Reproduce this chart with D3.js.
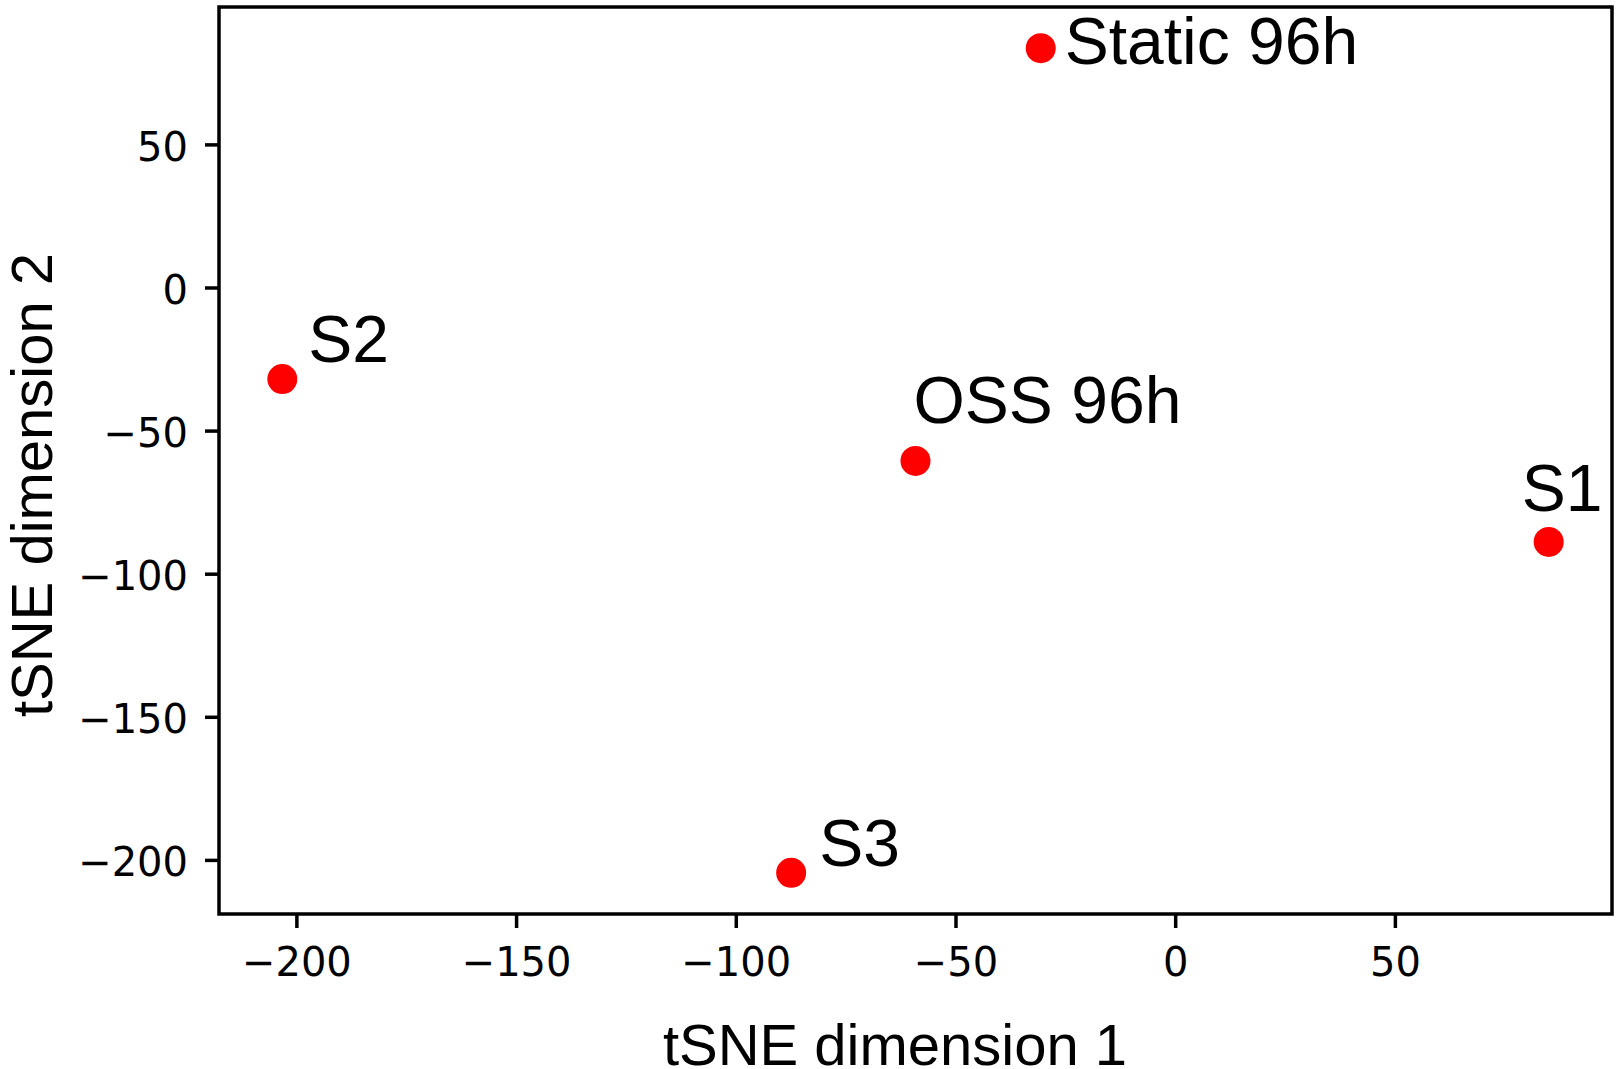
<!DOCTYPE html>
<html>
<head>
<meta charset="utf-8">
<script src="https://cdn.jsdelivr.net/npm/d3@7"></script>
<style>
  html, body { margin: 0; padding: 0; background: #fff; }
  .tick text { font-family: "DejaVu Sans", sans-serif; }
  .axis-title, .point-label { font-family: "Liberation Sans", Arial, sans-serif; fill: #000; }
</style>
</head>
<body>
<svg id="chart" width="1621" height="1069"></svg>
<script>
// Sample names and their tSNE coordinates.
const samples = ['Static 96h', 'S2', 'OSS 96h', 'S1', 'S3'];
const dim1 = [-30.6, -203.2, -59.1, 85.0, -87.4];
const dim2 = [83.6, -32.0, -60.6, -88.9, -204.5];

// Tick values shown on each axis.
const xTicks = [-200, -150, -100, -50, 0, 50];
const yTicks = [-200, -150, -100, -50, 0, 50];

// Where each label sits relative to its dot (px: dx, dy to text baseline).
const labelOffset = [[24, 16], [26, -17], [-2, -38], [-27, -31], [28, -7]];

const svg = d3.select('#chart');
const box = { left: 219, right: 1612, top: 7, bottom: 914 };

// matplotlib-style 5% margin around the data.
function padded(vals) {
  const [lo, hi] = d3.extent(vals);
  const m = (hi - lo) * 0.05;
  return [lo - m, hi + m];
}

const x = d3.scaleLinear().domain(padded(dim1)).range([box.left, box.right]);
const y = d3.scaleLinear().domain(padded(dim2)).range([box.bottom, box.top]);

const stroke = 3.5;

// Bottom axis.
const gx = svg.append('g')
  .attr('transform', `translate(0,${box.bottom})`)
  .call(d3.axisBottom(x).tickValues(xTicks).tickSize(14).tickPadding(20).tickSizeOuter(0));
gx.select('.domain').remove();

// Left axis.
const gy = svg.append('g')
  .attr('transform', `translate(${box.left},0)`)
  .call(d3.axisLeft(y).tickValues(yTicks).tickSize(14).tickPadding(17).tickSizeOuter(0));
gy.select('.domain').remove();
gy.selectAll('.tick text').attr('dy', '0.4em');

svg.selectAll('.tick line').attr('stroke', '#000').attr('stroke-width', stroke);
svg.selectAll('.tick text').attr('font-size', 40).attr('fill', '#000');

// Frame around the plot area.
svg.append('rect')
  .attr('x', box.left)
  .attr('y', box.top)
  .attr('width', box.right - box.left)
  .attr('height', box.bottom - box.top)
  .attr('fill', 'none')
  .attr('stroke', '#000')
  .attr('stroke-width', stroke);

// Points.
const pts = samples.map((name, i) => ({ name, a: dim1[i], b: dim2[i], off: labelOffset[i] }));

svg.append('g')
  .selectAll('circle')
  .data(pts)
  .join('circle')
  .attr('cx', (d) => x(d.a))
  .attr('cy', (d) => y(d.b))
  .attr('r', 15)
  .attr('fill', '#ff0000');

svg.append('g')
  .selectAll('text')
  .data(pts)
  .join('text')
  .attr('class', 'point-label')
  .attr('x', (d) => x(d.a) + d.off[0])
  .attr('y', (d) => y(d.b) + d.off[1])
  .attr('font-size', 66)
  .text((d) => d.name);

// Axis titles.
svg.append('text')
  .attr('class', 'axis-title')
  .attr('x', 895)
  .attr('y', 1065)
  .attr('text-anchor', 'middle')
  .attr('font-size', 58)
  .text('tSNE dimension 1');

svg.append('text')
  .attr('class', 'axis-title')
  .attr('transform', 'translate(52,485) rotate(-90)')
  .attr('text-anchor', 'middle')
  .attr('font-size', 58)
  .text('tSNE dimension 2');
</script>
</body>
</html>
